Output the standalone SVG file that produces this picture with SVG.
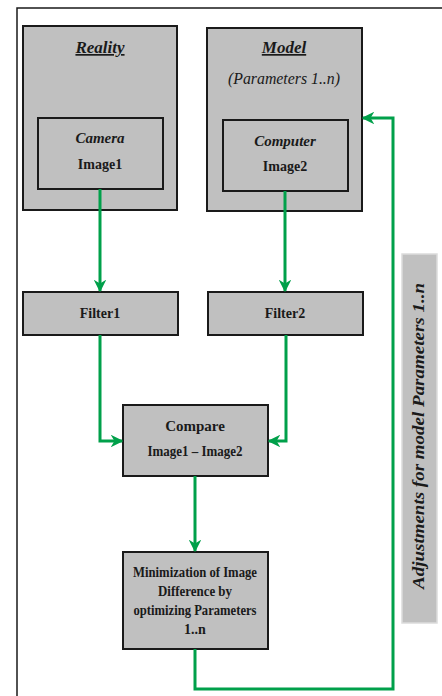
<svg xmlns="http://www.w3.org/2000/svg" width="442" height="696" viewBox="0 0 442 696">
<style>
.box{fill:#c0c0c0;stroke:#1a1a1a;stroke-width:2}
.t{font-family:'Liberation Serif','Times New Roman',Times,serif;fill:#1a1a1a;text-anchor:middle}
.b{font-weight:bold}
.i{font-style:italic}
.c{fill:none;stroke:#00a04a;stroke-width:3}
</style>
<defs>
<marker id="ah" viewBox="0 0 10 10" refX="9" refY="5" markerWidth="4.2" markerHeight="4.2" orient="auto" markerUnits="strokeWidth">
<path d="M0,0 L10,5 L0,10 L3,5 Z" fill="#00a04a"/>
</marker>
</defs>
<rect width="442" height="696" fill="#ffffff"/>
<path d="M17,696 V8 H442" fill="none" stroke="#1a1a1a" stroke-width="1.5"/>

<g font-family="Liberation Serif, Times New Roman, serif">
<g id="reality">
<rect class="box" x="23" y="26" width="154" height="184"/>
<text class="t b i" x="100" y="53" font-size="17" text-decoration="underline">Reality</text>
</g>
<g id="camera">
<rect class="box" x="38" y="118" width="125" height="71"/>
<text class="t b i" x="100" y="143" font-size="15">Camera</text>
<text class="t b" x="100" y="169" font-size="14">Image1</text>
</g>
<g id="model">
<rect class="box" x="207" y="28" width="155" height="183"/>
<text class="t b i" x="284" y="53" font-size="17" text-decoration="underline">Model</text>
<text class="t i" x="284" y="84" font-size="17" textLength="112" lengthAdjust="spacingAndGlyphs">(Parameters 1..n)</text>
</g>
<g id="computer">
<rect class="box" x="223" y="120" width="125" height="71"/>
<text class="t b i" x="285" y="146" font-size="15">Computer</text>
<text class="t b" x="285" y="171" font-size="14">Image2</text>
</g>
<g id="filter1">
<rect class="box" x="23" y="292" width="155" height="43"/>
<text class="t b" x="100" y="318" font-size="14">Filter1</text>
</g>
<g id="filter2">
<rect class="box" x="208" y="292" width="155" height="43"/>
<text class="t b" x="285" y="318" font-size="14">Filter2</text>
</g>
<g id="compare">
<rect class="box" x="123" y="405" width="145" height="71"/>
<text class="t b" x="195" y="431" font-size="15">Compare</text>
<text class="t b" x="195" y="456" font-size="15" textLength="95" lengthAdjust="spacingAndGlyphs">Image1 – Image2</text>
</g>
<g id="minimization">
<rect class="box" x="123" y="552" width="145" height="97"/>
<text class="t b" x="195" y="577" font-size="14" textLength="124" lengthAdjust="spacingAndGlyphs">Minimization of Image</text>
<text class="t b" x="195" y="596" font-size="14" textLength="74" lengthAdjust="spacingAndGlyphs">Difference by</text>
<text class="t b" x="195" y="615" font-size="14" textLength="123" lengthAdjust="spacingAndGlyphs">optimizing Parameters</text>
<text class="t b" x="195" y="634" font-size="14">1..n</text>
</g>
<g id="adjustments">
<rect x="402" y="254" width="35" height="369" fill="#c0c0c0" stroke="#dcdcdc" stroke-width="1.5"/>
<text class="t b i" transform="translate(424,436) rotate(-90)" font-size="16" textLength="306" lengthAdjust="spacingAndGlyphs">Adjustments for model Parameters 1..n</text>
</g>
</g>
<g id="connectors">
<path class="c" d="M100,189 V291" marker-end="url(#ah)"/>
<path class="c" d="M285,191 V291" marker-end="url(#ah)"/>
<path class="c" d="M100,335 V441 H122" marker-end="url(#ah)"/>
<path class="c" d="M286,335 V441 H269" marker-end="url(#ah)"/>
<path class="c" d="M195,476 V551" marker-end="url(#ah)"/>
<path class="c" d="M195,649 V689 H393 V118 H363" marker-end="url(#ah)"/>
</g>
</svg>
